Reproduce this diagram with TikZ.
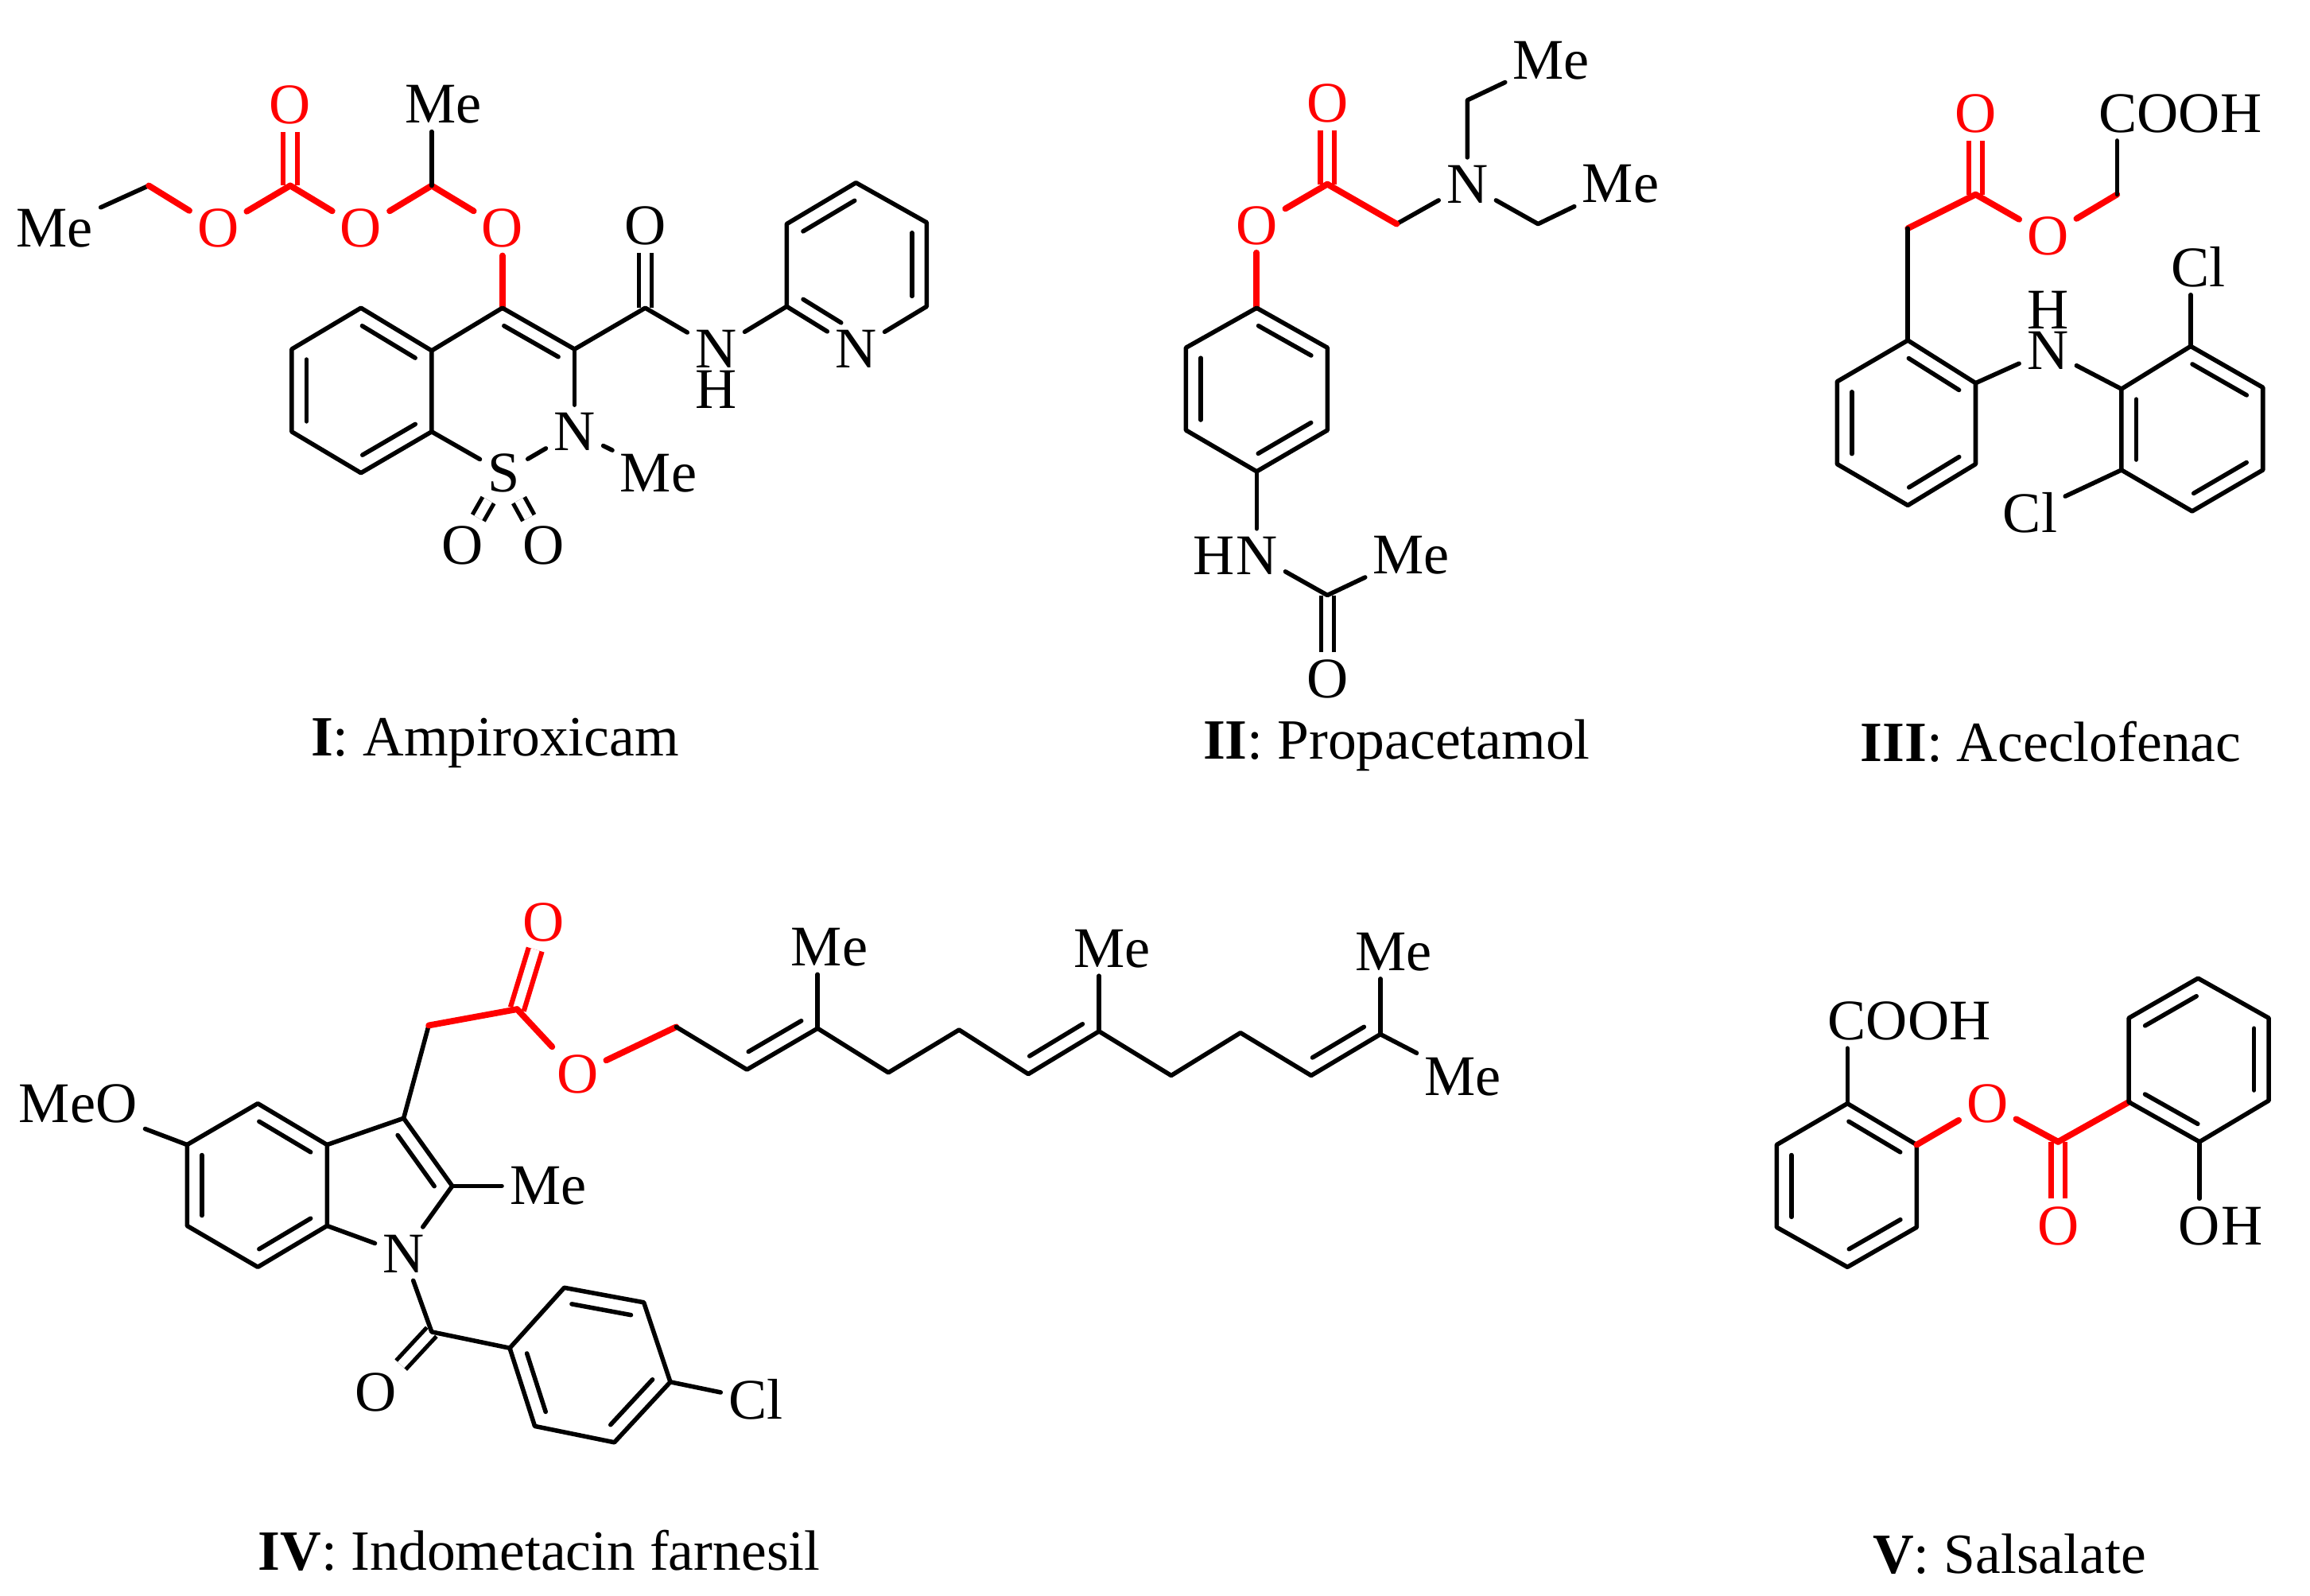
\documentclass[tikz,border=0pt]{standalone}
\usepackage{fontspec}
\setmainfont{Liberation Serif}
\usetikzlibrary{positioning,calc}
\tikzset{
  bond/.style={line width=1.5pt, line cap=round, line join=round},
  redbond/.style={bond, line width=2.1pt, red},
  dblbond/.style={line width=1.4pt, double, double distance=3pt},
  reddbl/.style={dblbond, line width=1.7pt, double distance=3pt, draw=red},
  inbond/.style={bond, shorten <=3.5pt, shorten >=3.5pt},
  atom/.style={inner sep=2.5pt, font=\fontsize{19.5}{24}\selectfont},
  redatom/.style={atom, text=red},
  caption/.style={anchor=base, inner sep=0pt, font=\fontsize{19.3}{24}\selectfont}
}
\newcommand{\dblin}[3][]{\draw[inbond,#1] ($(#2)!5pt!90:(#3)$) -- ($(#3)!5pt!-90:(#2)$);}
\begin{document}
\begin{tikzpicture}[x=0.5pt, y=-0.5pt]
    \useasboundingbox (0, 0) rectangle (1568, 1083);

    % I
    \node[atom] at (37, 155) (ime) {Me};
    \coordinate (ich) at (101, 126);
    \node[redatom] at (148, 155) (io1) {O};
    \coordinate (icc) at (197, 126);
    \node[redatom] at (197, 71) (io2) {O};
    \node[redatom] at (245, 155) (io3) {O};
    \coordinate (icm) at (293, 126);
    \node[atom] at (301, 71) (ime2) {Me};
    \node[redatom] at (341, 155) (io4) {O};

    \coordinate (ib1) at (245, 209);
    \coordinate (ib2) at (198, 237);
    \coordinate (ib3) at (198, 293);
    \coordinate (ib4) at (245, 321);
    \coordinate (ib5) at (293, 293);
    \coordinate (ib6) at (293, 238);
    \coordinate (ic4) at (341, 209);
    \coordinate (ic3) at (390, 237);
    \node[atom] at (390, 293) (in) {N};
    \node[atom] at (342, 321) (is) {S};
    \node[atom] at (447, 321) (ime3) {Me};
    \node[atom] at (314, 370) (iso1) {O};
    \node[atom] at (369, 370) (iso2) {O};
    \coordinate (iam) at (438, 209);
    \node[atom] at (438, 153) (ioa) {O};
    \node[atom] at (486, 237) (inh) {N};
    \node[atom, below=-4.5pt of inh] (ih) {H};
    \coordinate (ip1) at (534, 208);
    \coordinate (ip2) at (534, 152);
    \coordinate (ip3) at (581, 124);
    \coordinate (ip4) at (629, 151);
    \coordinate (ip5) at (629, 208);
    \node[atom] at (581, 237) (ipn) {N};

    \draw[reddbl] (icc) -- (io2);
    \draw[dblbond] (iam) -- (ioa);
    \draw[dblbond] (is) -- (iso1);
    \draw[dblbond] (is) -- (iso2);

    \draw[bond] (ime) -- (ich);
    \draw[redbond] (ich) -- (io1);
    \draw[redbond] (io1) -- (icc);
    \draw[redbond] (icc) -- (io3);
    \draw[redbond] (io3) -- (icm);
    \draw[redbond] (icm) -- (io4);
    \draw[redbond] (io4) -- (ic4);
    \draw[bond] (icm) -- (icm |- ime2.south);
    \draw[bond] (ib6) -- (ib1) -- (ib2) -- (ib3) -- (ib4) -- (ib5) -- cycle;
    \draw[bond] (ib6) -- (ic4) -- (ic3) -- (iam) -- (inh);
    \draw[bond] (ic3) -- (in);
    \draw[bond] (in) -- (is);
    \draw[bond] (is) -- (ib5);
    \draw[bond] (in) -- (ime3);
    \draw[bond] (inh) -- (ip1);
    \draw[bond] (ipn) -- (ip1) -- (ip2) -- (ip3) -- (ip4) -- (ip5) -- (ipn);
    \dblin{ib6}{ib1}
    \dblin{ib2}{ib3}
    \dblin{ib4}{ib5}
    \dblin{ic3}{ic4}
    \dblin{ip3}{ip2}
    \dblin{ip5}{ip4}
    \dblin[shorten >=9pt]{ip1}{ipn}

    \node[caption] at (336, 513) (icap) {\textbf{I}: Ampiroxicam};

    % II
    \node[atom] at (1053, 41) (ame1) {Me};
    \coordinate (ae1) at (996, 68);
    \node[atom] at (996, 125) (an) {N};
    \coordinate (ae2) at (1044, 152);
    \node[atom] at (1100, 125) (ame2) {Me};
    \coordinate (ach) at (948, 152);
    \coordinate (acc) at (901, 125);
    \node[redatom] at (901, 70) (ao1) {O};
    \node[redatom] at (853, 153) (ao2) {O};
    \coordinate (ar1) at (853, 209);
    \coordinate (ar2) at (805, 236);
    \coordinate (ar3) at (805, 292);
    \coordinate (ar4) at (853, 320);
    \coordinate (ar5) at (901, 292);
    \coordinate (ar6) at (901, 236);
    \node[atom] at (853, 377) (anh) {N};
    \node[atom, left=-5pt of anh] (ah) {H};
    \node[atom] at (958, 377) (ame3) {Me};
    \coordinate (aco) at (901, 404);
    \node[atom] at (901, 461) (ao3) {O};

    \draw[reddbl] (acc) -- (ao1);
    \draw[dblbond] (aco) -- (ao3);

    \draw[bond] (ame1) -- (ae1) -- (an);
    \draw[bond] (an) -- (ae2) -- (ame2);
    \draw[bond] (an) -- (ach);
    \draw[redbond] (ach) -- (acc);
    \draw[redbond] (acc) -- (ao2);
    \draw[redbond] (ao2) -- (ar1);
    \draw[bond] (ar1) -- (ar2) -- (ar3) -- (ar4) -- (ar5) -- (ar6) -- cycle;
    \draw[bond] (ar4) -- (anh);
    \draw[bond] (anh) -- (aco) -- (ame3);
    \dblin{ar6}{ar1}
    \dblin{ar2}{ar3}
    \dblin{ar4}{ar5}

    \node[caption] at (948, 515) (acap) {\textbf{II}: Propacetamol};

    % III
    \node[redatom] at (1341, 77) (bo1) {O};
    \coordinate (bcc) at (1341, 132);
    \coordinate (bch) at (1295, 155);
    \node[redatom] at (1390, 160) (bo2) {O};
    \coordinate (bcg) at (1437, 132);
    \node[atom] at (1480, 77) (bcooh) {COOH};
    \coordinate (br1) at (1295, 231);
    \coordinate (br2) at (1341, 260);
    \coordinate (br3) at (1341, 315);
    \coordinate (br4) at (1295, 343);
    \coordinate (br5) at (1247, 315);
    \coordinate (br6) at (1247, 259);
    \node[atom] at (1390, 238) (bn) {N};
    \node[atom, above=-4.5pt of bn] (bh) {H};
    \coordinate (bs1) at (1440, 264);
    \coordinate (bs2) at (1487, 235);
    \coordinate (bs3) at (1536, 263);
    \coordinate (bs4) at (1536, 319);
    \coordinate (bs5) at (1488, 347);
    \coordinate (bs6) at (1440, 319);
    \node[atom] at (1492, 181) (bcl1) {Cl};
    \node[atom] at (1378, 348) (bcl2) {Cl};

    \draw[reddbl] (bcc) -- (bo1);

    \draw[redbond] (bch) -- (bcc);
    \draw[redbond] (bcc) -- (bo2);
    \draw[redbond] (bo2) -- (bcg);
    \draw[bond] (bcg) -- (bcg |- bcooh.south);
    \draw[bond] (bch) -- (br1);
    \draw[bond] (br1) -- (br2) -- (br3) -- (br4) -- (br5) -- (br6) -- cycle;
    \draw[bond] (br2) -- (bn);
    \draw[bond] (bn) -- (bs1);
    \draw[bond] (bs1) -- (bs2) -- (bs3) -- (bs4) -- (bs5) -- (bs6) -- cycle;
    \draw[bond] (bs2) -- (bs2 |- bcl1.south);
    \draw[bond] (bs6) -- (bcl2);
    \dblin{br2}{br1}
    \dblin{br6}{br5}
    \dblin{br4}{br3}
    \dblin{bs3}{bs2}
    \dblin{bs1}{bs6}
    \dblin{bs5}{bs4}

    \node[caption] at (1392, 517) (bcap) {\textbf{III}: Aceclofenac};

    % IV
    \node[atom] at (53, 749) (dmeo) {MeO};
    \coordinate (dr1) at (127, 777);
    \coordinate (dr2) at (175, 749);
    \coordinate (dr3) at (222, 777);
    \coordinate (dr4) at (222, 832);
    \coordinate (dr5) at (175, 860);
    \coordinate (dr6) at (127, 832);
    \coordinate (dc3) at (274, 759);
    \coordinate (dc2) at (307, 805);
    \node[atom] at (274, 851) (dn) {N};
    \node[atom] at (372, 805) (dme) {Me};
    \coordinate (dch) at (291, 696);
    \coordinate (dcc) at (351, 685);
    \node[redatom] at (369, 626) (do1) {O};
    \node[redatom] at (392, 729) (do2) {O};
    \coordinate (df1) at (459, 697);
    \coordinate (df2) at (507, 726);
    \coordinate (df3) at (555, 698);
    \coordinate (df4) at (603, 728);
    \coordinate (df5) at (651, 699);
    \coordinate (df6) at (698, 729);
    \coordinate (df7) at (746, 700);
    \coordinate (df8) at (795, 730);
    \coordinate (df9) at (842, 701);
    \coordinate (df10) at (890, 730);
    \coordinate (df11) at (937, 702);
    \node[atom] at (563, 643) (dm1) {Me};
    \node[atom] at (755, 644) (dm2) {Me};
    \node[atom] at (946, 646) (dm3) {Me};
    \node[atom] at (993, 731) (dm4) {Me};
    \coordinate (dco) at (293, 904);
    \node[atom] at (255, 945) (do3) {O};
    \coordinate (da1) at (346, 915);
    \coordinate (da2) at (383, 874);
    \coordinate (da3) at (437, 884);
    \coordinate (da4) at (455, 938);
    \coordinate (da5) at (417, 979);
    \coordinate (da6) at (363, 968);
    \node[atom] at (513, 950) (dcl) {Cl};

    \draw[reddbl] (dcc) -- (do1);
    \draw[dblbond] (dco) -- (do3);

    \draw[bond] (dmeo) -- (dr1);
    \draw[bond] (dr1) -- (dr2) -- (dr3) -- (dr4) -- (dr5) -- (dr6) -- cycle;
    \draw[bond] (dr3) -- (dc3) -- (dc2) -- (dn);
    \draw[bond] (dn) -- (dr4);
    \draw[bond] (dc2) -- (dme);
    \draw[bond] (dc3) -- (dch);
    \draw[redbond] (dch) -- (dcc);
    \draw[redbond] (dcc) -- (do2);
    \draw[redbond] (do2) -- (df1);
    \draw[bond] (df1) -- (df2) -- (df3) -- (df4) -- (df5) -- (df6) -- (df7) -- (df8) -- (df9) -- (df10) -- (df11);
    \draw[bond] (df3) -- (df3 |- dm1.south);
    \draw[bond] (df7) -- (df7 |- dm2.south);
    \draw[bond] (df11) -- (df11 |- dm3.south);
    \draw[bond] (df11) -- (dm4);
    \draw[bond] (dn) -- (dco) -- (da1);
    \draw[bond] (da1) -- (da2) -- (da3) -- (da4) -- (da5) -- (da6) -- cycle;
    \draw[bond] (da4) -- (dcl);
    \dblin{dr3}{dr2}
    \dblin{dr1}{dr6}
    \dblin{dr5}{dr4}
    \dblin{dc2}{dc3}
    \dblin{df2}{df3}
    \dblin{df6}{df7}
    \dblin{df10}{df11}
    \dblin{da3}{da2}
    \dblin{da1}{da6}
    \dblin{da5}{da4}

    \node[caption] at (366, 1066) (dcap) {\textbf{IV}: Indometacin farnesil};

    % V
    \coordinate (er1) at (1254, 749);
    \coordinate (er2) at (1301, 777);
    \coordinate (er3) at (1301, 833);
    \coordinate (er4) at (1254, 860);
    \coordinate (er5) at (1206, 833);
    \coordinate (er6) at (1206, 777);
    \node[atom] at (1296, 693) (ecooh) {COOH};
    \node[redatom] at (1349, 749) (eo1) {O};
    \coordinate (ecc) at (1397, 775);
    \node[redatom] at (1397, 832) (eo2) {O};
    \coordinate (es1) at (1445, 748);
    \coordinate (es2) at (1445, 691);
    \coordinate (es3) at (1492, 664);
    \coordinate (es4) at (1540, 691);
    \coordinate (es5) at (1540, 747);
    \coordinate (es6) at (1493, 775);
    \node[atom] at (1493, 832) (eoh) {O};
    \node[atom, right=-5pt of eoh] (ehh) {H};

    \draw[reddbl] (ecc) -- (eo2);

    \draw[bond] (er1) -- (er2) -- (er3) -- (er4) -- (er5) -- (er6) -- cycle;
    \draw[bond] (er1) -- (er1 |- ecooh.south);
    \draw[redbond] (er2) -- (eo1);
    \draw[redbond] (eo1) -- (ecc);
    \draw[redbond] (ecc) -- (es1);
    \draw[bond] (es1) -- (es2) -- (es3) -- (es4) -- (es5) -- (es6) -- cycle;
    \draw[bond] (es6) -- (eoh);
    \dblin{er2}{er1}
    \dblin{er6}{er5}
    \dblin{er4}{er3}
    \dblin{es3}{es2}
    \dblin{es5}{es4}
    \dblin{es1}{es6}

    \node[caption] at (1364, 1068) (ecap) {\textbf{V}: Salsalate};
\end{tikzpicture}
\end{document}
